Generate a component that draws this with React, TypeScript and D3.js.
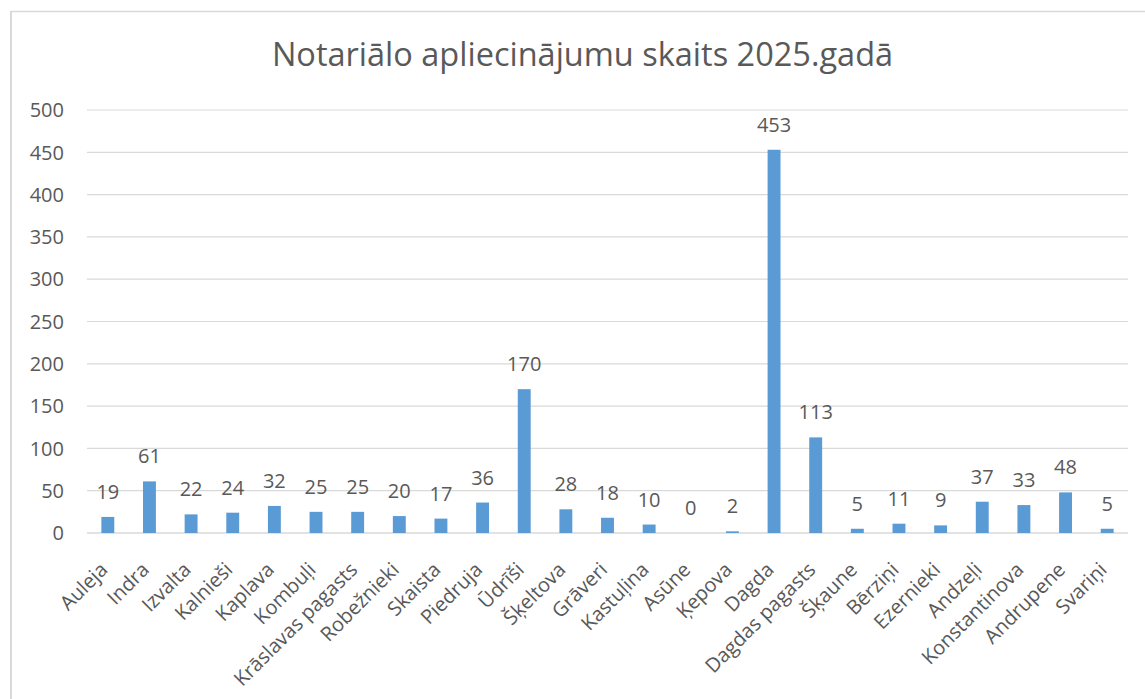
import React from "react";
import * as d3 from "d3";

const categories = [
  "Auleja", "Indra", "Izvalta", "Kalnieši", "Kaplava", "Kombuļi", "Krāslavas pagasts",
  "Robežnieki", "Skaista", "Piedruja", "Ūdrīši", "Šķeltova", "Grāveri", "Kastuļina",
  "Asūne", "Ķepova", "Dagda", "Dagdas pagasts", "Šķaune", "Bērziņi", "Ezernieki",
  "Andzeļi", "Konstantinova", "Andrupene", "Svariņi",
];
const values = [19, 61, 22, 24, 32, 25, 25, 20, 17, 36, 170, 28, 18, 10, 0, 2, 453, 113, 5, 11, 9, 37, 33, 48, 5];
const yTicks = [0, 50, 100, 150, 200, 250, 300, 350, 400, 450, 500];
const title = "Notariālo apliecinājumu skaits 2025.gadā";

const W = 1145;
const H = 699;
const left = 87;
const right = 1128;
const top = 110;
const bottom = 533;
const FONT = "'Open Sans', 'Noto Sans', sans-serif";
const TEXT = "#595959";
const GRID = "#D9D9D9";
const BAR = "#5B9BD5";

export default function App() {
  const x = d3.scaleBand<string>().domain(categories).range([left, right]).paddingInner(0.69).paddingOuter(0.345);
  const y = d3.scaleLinear().domain([0, 500]).range([bottom, top]);
  return (
    <svg width={W} height={H} style={{ position: "absolute", left: 0, top: 0, background: "#fff" }} fontFamily={FONT}>
      <rect x={0} y={0} width={W} height={H} fill="#fff" />
      <line x1={11} x2={11} y1={11} y2={H} stroke={GRID} strokeWidth={2} />
      <line x1={10} x2={W} y1={11.5} y2={11.5} stroke={GRID} strokeWidth={1.5} />
      <text x={582.5} y={66} textAnchor="middle" fontSize={32.5} fill={TEXT}>{title}</text>
      {yTicks.map((t) => (
        <g key={t}>
          <line x1={left} x2={right} y1={y(t)} y2={y(t)} stroke={GRID} strokeWidth={t === 0 ? 1.5 : 1.2} />
          <text x={64} y={y(t)} dy="0.36em" textAnchor="end" fontSize={20} fill={TEXT}>{t}</text>
        </g>
      ))}
      {categories.map((c, i) => {
        const bx = x(c)!;
        const bw = x.bandwidth();
        const v = values[i];
        const cx = bx + bw / 2;
        return (
          <g key={c}>
            <rect x={bx} y={y(v)} width={bw} height={y(0) - y(v)} fill={BAR} />
            <text x={cx} y={y(v) - 18} textAnchor="middle" fontSize={20} fill={TEXT}>{v}</text>
            <text
              transform={`translate(${cx + 1},${bottom + 38}) rotate(-45)`}
              textAnchor="end"
              fontSize={20}
              fill={TEXT}
            >
              {c}
            </text>
          </g>
        );
      })}
    </svg>
  );
}
